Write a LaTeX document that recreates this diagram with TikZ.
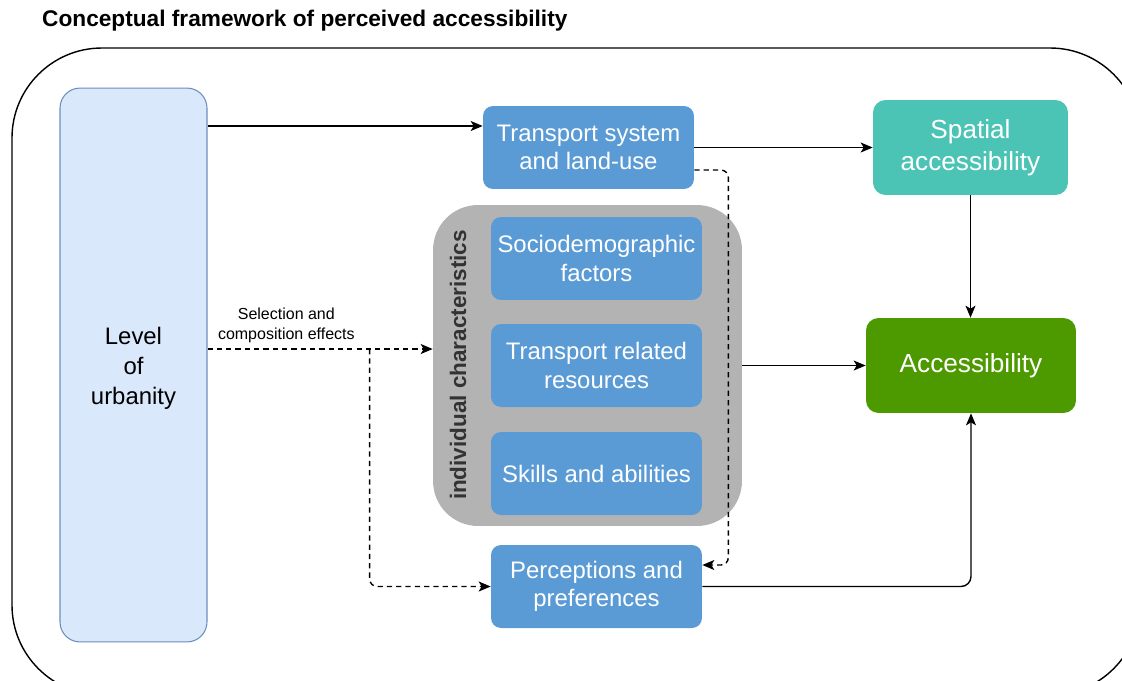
\documentclass[tikz,border=0pt]{standalone}
\usepackage{fontspec}
\setmainfont{Liberation Sans}
\usetikzlibrary{calc,positioning,arrows.meta}

\definecolor{boxblue}{HTML}{5B9BD5}
\definecolor{urbfill}{HTML}{DAE8FC}
\definecolor{urbline}{HTML}{6C8EBF}
\definecolor{spatialteal}{HTML}{4CC4B5}
\definecolor{accgreen}{HTML}{4D9900}
\definecolor{groupgray}{HTML}{B3B3B3}

\begin{document}
\begin{tikzpicture}[
    x=0.02cm, y=-0.02cm,
    font=\fontsize{13.6pt}{16pt}\selectfont,
    % Node styles
    factor/.style={fill=boxblue, text=white, rounded corners=0.2cm, minimum width=4.22cm, minimum height=1.66cm, align=center, inner sep=2pt},
    outcome/.style={text=white, rounded corners=0.25cm, minimum width=3.9cm, minimum height=1.9cm, align=center, font=\fontsize{14.9pt}{18pt}\selectfont},
    arrow/.style={-{Stealth[length=0.24cm,width=0.2cm,inset=0.06cm]}, line width=0.8pt},
    dasharrow/.style={arrow, dash pattern=on 3pt off 2.3pt},
]

    \clip (0,0) rectangle (1122,680);

    % Title and frame
    \node[anchor=west, font=\bfseries\fontsize{12.9pt}{15pt}\selectfont] (title) at (36,21) {Conceptual framework of perceived accessibility};
    \draw[line width=0.8pt, rounded corners=1.8cm] (12,48) rectangle (1140,695);

    % Level of urbanity
    \node[draw=urbline, fill=urbfill, line width=0.6pt, rounded corners=0.4cm, minimum width=2.94cm, minimum height=11.08cm, align=center, font=\fontsize{13.6pt}{17pt}\selectfont] (urb) at (133.5,365) {};
    \node[align=center, font=\fontsize{13.6pt}{17pt}\selectfont] (urblabel) at (133.5,368) {Level\\of\\urbanity};

    % Individual characteristics group
    \node[fill=groupgray, rounded corners=0.9cm, minimum width=6.18cm, minimum height=6.42cm] (ind) at (587.5,365.5) {};
    \node[rotate=90, text=black!80, font=\bfseries\fontsize{12.8pt}{15pt}\selectfont] (indlabel) at (458,365) {individual characteristics};
    \node[factor] (socio) at (596.5,258.5) {Sociodemographic\\factors};
    \node[factor] (res) at (596.5,365.5) {Transport related\\resources};
    \node[factor] (skills) at (596.5,473.5) {Skills and abilities};

    % Other factors and outcomes
    \node[factor] (trans) at (588.5,147.5) {Transport system\\and land-use};
    \node[factor] (perc) at (596.5,586.5) {Perceptions and\\preferences};
    \node[outcome, fill=spatialteal] (spatial) at (970.5,147.5) {Spatial\\accessibility};
    \node[outcome, fill=accgreen, minimum width=4.2cm] (acc) at (971,365.5) {Accessibility};

    % Connections
    \coordinate (trans_in) at ([yshift=0.43cm]trans.west);
    \coordinate (ind_in) at ([yshift=0.33cm]ind.west);
    \coordinate (split) at ($(urb.east |- ind_in)!0.72!(ind_in)$);
    \draw[arrow] (urb.east |- trans_in) -- (trans_in);
    \draw[arrow] (trans.east) -- (spatial.west |- trans.east);
    \draw[arrow] (spatial.south) -- (spatial.south |- acc.north);
    \draw[arrow] (ind.east) -- (acc.west);
    \draw[arrow, rounded corners=0.2cm] (perc.east) -| (acc.south);

    % Selection and composition effects
    \draw[dasharrow] (urb.east |- ind_in) -- node[pos=0.35, above, align=center, font=\fontsize{9.1pt}{11.3pt}\selectfont] (selection) {Selection and\\composition effects} (ind_in);
    \draw[dasharrow, rounded corners=0.15cm] (split) |- (perc.west);
    \draw[dasharrow, rounded corners=0.15cm] ([yshift=-0.45cm]trans.east) -- ++(34,0) |- ([yshift=0.43cm]perc.east);

\end{tikzpicture}
\end{document}
